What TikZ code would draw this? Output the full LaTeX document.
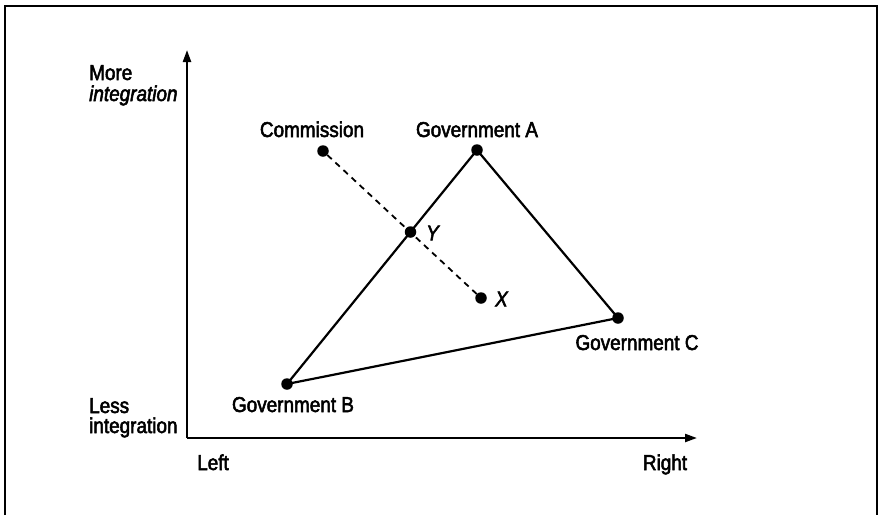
\documentclass[tikz,border=0pt]{standalone}
\usepackage{fontspec}
\setmainfont{Liberation Sans}[FakeStretch=0.88,FakeBold=2.5]
\usetikzlibrary{arrows.meta}
\begin{document}
\begin{tikzpicture}[x=1pt,y=-1pt,
  dot/.style={circle,fill=black,inner sep=0pt,minimum size=11.5pt},
  lbl/.style={inner sep=0pt,font=\fontsize{21.5}{24}\selectfont},
  edge/.style={line width=2.2pt},
  axis/.style={line width=2.2pt,-{Triangle[length=12pt,width=8pt]}},
  frame/.style={line width=1.8pt}]
\useasboundingbox (0,0) rectangle (879,515);
% frame (open at bottom)
\coordinate (f1) at (5,515);
\coordinate (f2) at (5,6);
\coordinate (f3) at (877,6);
\coordinate (f4) at (877,515);
\draw[frame] (f1) -- (f2) -- (f3) -- (f4);
% axes
\coordinate (o) at (187,438);
\coordinate (ytop) at (187,50);
\coordinate (xend) at (697,438);
\draw[axis] (o) -- (ytop);
\draw[axis] (o) -- (xend);
% points
\node[dot] (com) at (323,151) {};
\node[dot] (ga) at (477,150) {};
\node[dot] (gb) at (287,384) {};
\node[dot] (gc) at (618,318) {};
\node[dot] (y) at (410.5,232) {};
\node[dot] (x) at (481,298) {};
% edges
\draw[edge] (ga.center) -- (gb.center) -- (gc.center) -- cycle;
\draw[line width=1.8pt,dash pattern=on 6pt off 5pt] (com) -- (x);
% labels
\node[lbl,anchor=base] (lcom) at (312,137) {Commission};
\node[lbl,anchor=base] (lga) at (477,137) {Government A};
\node[lbl,anchor=base] (lgb) at (293,412) {Government B};
\node[lbl,anchor=base] (lgc) at (637,350) {Government C};
\node[lbl,anchor=west] (ly) at (426,233) {\itshape Y};
\node[lbl,anchor=west] (lx) at (495,299) {\itshape X};
\node[lbl,anchor=base west] (lmore) at (89,80) {More};
\node[lbl,anchor=base west] (lint1) at (89,101) {\itshape integration};
\node[lbl,anchor=base west] (lless) at (89,413) {Less};
\node[lbl,anchor=base west] (lint2) at (89,433) {integration};
\node[lbl,anchor=base] (lleft) at (213,470) {Left};
\node[lbl,anchor=base] (lright) at (665,470) {Right};
\end{tikzpicture}
\end{document}
